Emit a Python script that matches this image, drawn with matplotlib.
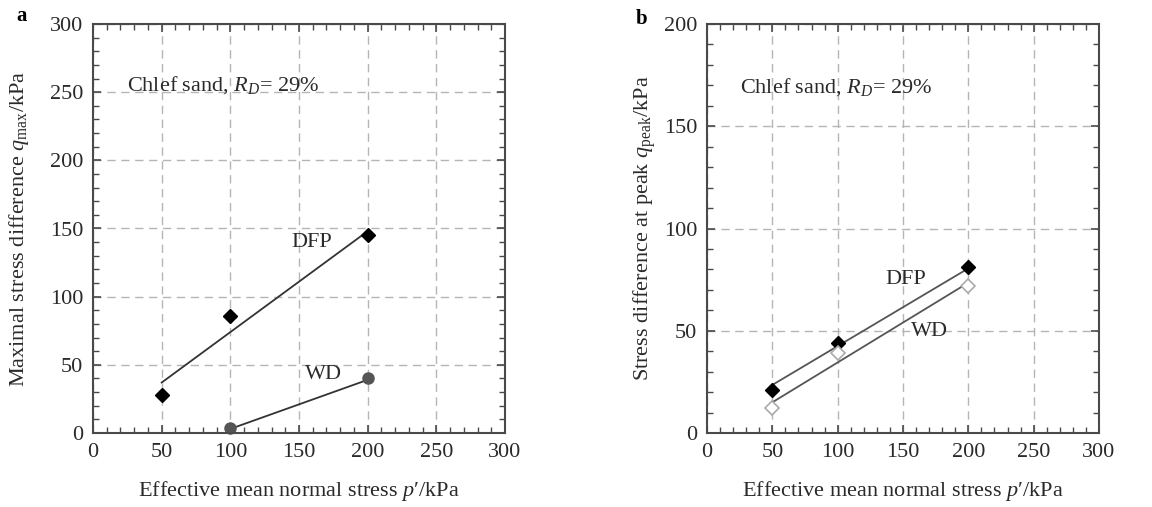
import matplotlib
matplotlib.use("Agg")
import matplotlib.pyplot as plt
from matplotlib.ticker import MultipleLocator

plt.rcParams['font.family'] = ['Liberation Serif', 'DejaVu Serif']
plt.rcParams['mathtext.fontset'] = 'custom'
plt.rcParams['mathtext.rm'] = 'Liberation Serif'
plt.rcParams['mathtext.it'] = 'Liberation Serif:italic'

# ---- data panel a ----
a_dfp_x = [50, 100, 200]
a_dfp_y = [28, 86, 145]
a_dfp_fit_x = [50, 200]
a_dfp_fit_y = [37, 148]
a_wd_x = [100, 200]
a_wd_y = [4, 40]
a_wd_fit_x = [100, 200]
a_wd_fit_y = [3, 39]

# ---- data panel b ----
b_dfp_x = [50, 100, 200]
b_dfp_y = [21, 44, 81]
b_dfp_fit_x = [50, 200]
b_dfp_fit_y = [23.5, 80.5]
b_wd_x = [50, 100, 200]
b_wd_y = [12, 39, 72]
b_wd_fit_x = [50, 200]
b_wd_fit_y = [15, 73.5]

x_ticks = [0, 50, 100, 150, 200, 250, 300]
a_y_ticks = [0, 50, 100, 150, 200, 250, 300]
b_y_ticks = [0, 50, 100, 150, 200]

W, H = 1152, 507
fig = plt.figure(figsize=(W / 100, H / 100), dpi=100)
axa = fig.add_axes([93 / W, (H - 433) / H, 412 / W, 409 / H])
axb = fig.add_axes([707 / W, (H - 433) / H, 392 / W, 409 / H])

spine_c = '#4a4a4a'
txt_c = '#2a2a2a'
fs = 16

def style(ax, yticks, ymax):
    ax.set_xlim(0, 300)
    ax.set_ylim(0, ymax)
    ax.set_xticks(x_ticks)
    ax.set_yticks(yticks)
    ax.xaxis.set_minor_locator(MultipleLocator(10))
    ax.yaxis.set_minor_locator(MultipleLocator(10))
    ax.tick_params(which='both', direction='in', top=True, right=True,
                   color=spine_c, labelcolor=txt_c, labelsize=fs)
    ax.tick_params(which='major', length=6, width=1.2, pad=7)
    ax.tick_params(which='minor', length=4, width=1.0)
    for s in ax.spines.values():
        s.set_color(spine_c)
        s.set_linewidth(1.5)
    ax.grid(True, which='major', linestyle=(0, (6, 4)), color='#b5b5b5', linewidth=1.0)
    ax.set_axisbelow(True)
    ax.set_xlabel("Effective mean normal stress $p$\u2032/kPa", fontsize=fs, color=txt_c, va='center')
    ax.xaxis.set_label_coords(0.5, (433 - 491) / 409)

# panel a
style(axa, a_y_ticks, 300)
axa.plot(a_dfp_fit_x, a_dfp_fit_y, color='#333333', lw=1.3)
axa.plot(a_wd_fit_x, a_wd_fit_y, color='#333333', lw=1.3)
axa.plot(a_dfp_x, a_dfp_y, linestyle='none', marker='D', ms=7, color='black', clip_on=False)
axa.plot(a_wd_x, a_wd_y, linestyle='none', marker='o', ms=8, color='#555555', clip_on=False)
axa.text(159, 140, 'DFP', fontsize=fs, color=txt_c, ha='center', va='center')
axa.text(168, 43, 'WD', fontsize=fs, color=txt_c, ha='center', va='center')
axa.text(25, 255, 'Chlef sand, $R_D$= 29%', fontsize=fs, color=txt_c, ha='left', va='center')
axa.set_ylabel('Maximal stress difference $q_{\\mathrm{max}}$/kPa', fontsize=fs, color=txt_c, va='center')
axa.yaxis.set_label_coords((19 - 93) / 412, 0.5)

# panel b
style(axb, b_y_ticks, 200)
axb.plot(b_dfp_fit_x, b_dfp_fit_y, color='#555555', lw=1.3)
axb.plot(b_wd_fit_x, b_wd_fit_y, color='#555555', lw=1.3)
axb.plot(b_dfp_x, b_dfp_y, linestyle='none', marker='D', ms=7, color='black', clip_on=False)
axb.plot(b_wd_x, b_wd_y, linestyle='none', marker='D', ms=7, markerfacecolor='white',
         markeredgecolor='#aaaaaa', markeredgewidth=1.2, clip_on=False)
axb.text(152, 75, 'DFP', fontsize=fs, color=txt_c, ha='center', va='center')
axb.text(170, 49.5, 'WD', fontsize=fs, color=txt_c, ha='center', va='center')
axb.text(25, 169, 'Chlef sand, $R_D$= 29%', fontsize=fs, color=txt_c, ha='left', va='center')
axb.set_ylabel('Stress difference at peak $q_{\\mathrm{peak}}$/kPa', fontsize=fs, color=txt_c, va='center')
axb.yaxis.set_label_coords((645 - 707) / 392, 0.5)

fig.text(22 / W, 1 - 16 / H, 'a', fontsize=15, fontweight='bold', color='black', ha='center', va='center')
fig.text(642 / W, 1 - 19 / H, 'b', fontsize=15, fontweight='bold', color='black', ha='center', va='center')

fig.savefig('out.png', dpi=100)
